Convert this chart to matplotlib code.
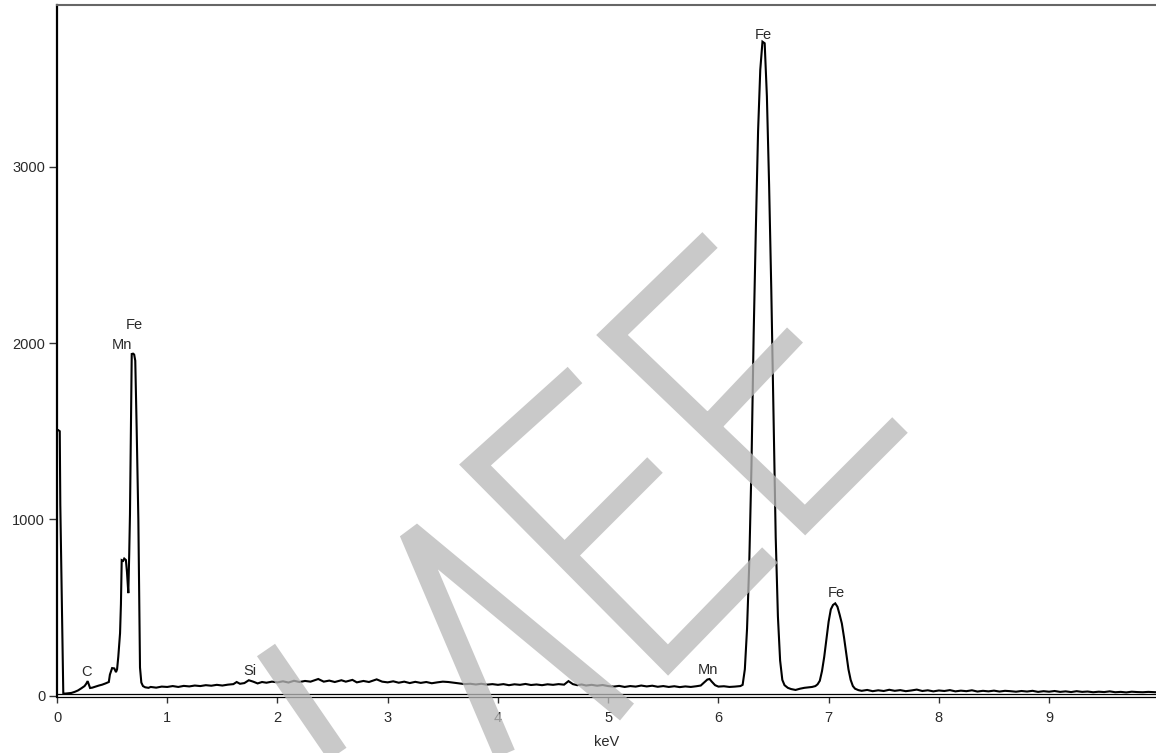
import matplotlib
matplotlib.use("Agg")
import matplotlib.pyplot as plt
from matplotlib.path import Path
from matplotlib.patches import PathPatch
from matplotlib.transforms import Affine2D

# ---------------- data ----------------
kev_low = [0.000, 0.010, 0.025, 0.030, 0.042, 0.050, 0.057, 0.07, 0.10, 0.13, 0.16, 0.19,
           0.22, 0.25, 0.265, 0.278, 0.29, 0.30, 0.32, 0.35, 0.38, 0.41, 0.44, 0.47, 0.48,
           0.50, 0.52, 0.535, 0.545, 0.556, 0.565, 0.572, 0.58, 0.587, 0.60, 0.61, 0.625,
           0.635, 0.647, 0.655, 0.662, 0.670, 0.678, 0.69, 0.70, 0.71, 0.723, 0.738, 0.745,
           0.753, 0.765, 0.78, 0.80, 0.83]
cnt_low = [1507, 1507, 1500, 1083, 591, 300, 15, 12, 14, 16, 22, 30,
           42, 55, 68, 83, 62, 44, 46, 52, 58, 63, 70, 78, 120,
           157, 155, 134, 150, 221, 300, 355, 520, 769, 765, 778, 770,
           700, 582, 800, 1028, 1500, 1938, 1940, 1935, 1900, 1506, 1000, 600,
           160, 75, 55, 48, 45]

kev_mid = [0.85, 0.90, 0.95, 1.00, 1.05, 1.10, 1.15, 1.20, 1.25, 1.30, 1.35, 1.40, 1.45,
           1.50, 1.55, 1.60, 1.63, 1.66, 1.70, 1.74, 1.78, 1.82, 1.86, 1.90, 1.95, 2.00,
           2.05, 2.10, 2.15, 2.20, 2.25, 2.30, 2.37, 2.42, 2.47, 2.52, 2.58, 2.62, 2.68,
           2.72, 2.78, 2.83, 2.90, 2.95, 3.00, 3.05, 3.10, 3.15, 3.20, 3.25, 3.30, 3.35,
           3.40, 3.45, 3.50, 3.55, 3.60, 3.65, 3.70, 3.75, 3.80, 3.85, 3.90, 3.95, 4.00,
           4.05, 4.10, 4.15, 4.20, 4.25, 4.30, 4.35, 4.40, 4.45, 4.50, 4.55, 4.60, 4.64,
           4.68, 4.72, 4.76, 4.80, 4.85, 4.90, 4.95, 5.00, 5.05, 5.10, 5.15, 5.20, 5.25,
           5.30, 5.35, 5.40, 5.45, 5.50, 5.55, 5.60, 5.65, 5.70, 5.75, 5.80, 5.84, 5.87,
           5.90, 5.92, 5.94, 5.97, 6.00, 6.05, 6.10, 6.15, 6.20, 6.22]
cnt_mid = [50, 46, 52, 50, 55, 50, 56, 53, 58, 55, 60, 57, 62,
           58, 63, 66, 78, 68, 72, 88, 80, 70, 78, 74, 80, 76,
           82, 75, 85, 78, 84, 80, 95, 80, 86, 78, 88, 80, 90,
           76, 84, 78, 93, 80, 76, 82, 74, 80, 72, 79, 73, 78,
           71, 76, 80, 78, 74, 70, 66, 68, 64, 68, 63, 66, 62,
           66, 60, 65, 62, 67, 61, 64, 60, 65, 62, 66, 63, 83,
           66, 60, 64, 58, 62, 57, 61, 55, 52, 56, 50, 55, 52,
           58, 53, 57, 51, 55, 50, 54, 49, 53, 50, 54, 58, 75,
           92, 95, 80, 60, 52, 54, 50, 52, 55, 62]

kev_fe = [6.24, 6.26, 6.28, 6.30, 6.32, 6.34, 6.36, 6.38, 6.40, 6.42, 6.44, 6.46, 6.48,
          6.50, 6.52, 6.54, 6.56, 6.58, 6.60, 6.63, 6.66, 6.70, 6.74, 6.78, 6.82, 6.85,
          6.88, 6.90, 6.92, 6.94, 6.96, 6.98, 7.00, 7.02, 7.04, 7.06, 7.08, 7.10, 7.12,
          7.14, 7.16, 7.18, 7.20, 7.22, 7.24, 7.27]
cnt_fe = [150, 380, 750, 1300, 2050, 2650, 3200, 3550, 3709, 3700, 3400, 2900, 2300,
          1600, 900, 450, 200, 90, 60, 45, 38, 33, 40, 45, 48, 50,
          55, 65, 85, 140, 220, 320, 420, 490, 515, 524, 505, 460, 410,
          330, 240, 150, 90, 55, 40, 32]

kev_tail = [7.30, 7.35, 7.40, 7.45, 7.50, 7.55, 7.60, 7.65, 7.70, 7.75, 7.80, 7.85, 7.90,
            7.95, 8.00, 8.05, 8.10, 8.15, 8.20, 8.25, 8.30, 8.35, 8.40, 8.45, 8.50, 8.55,
            8.60, 8.65, 8.70, 8.75, 8.80, 8.85, 8.90, 8.95, 9.00, 9.05, 9.10, 9.15, 9.20,
            9.25, 9.30, 9.35, 9.40, 9.45, 9.50, 9.55, 9.60, 9.65, 9.70, 9.75, 9.80, 9.85,
            9.90, 9.97]
cnt_tail = [28, 33, 26, 31, 27, 34, 28, 32, 26, 30, 35, 27, 31,
            25, 30, 27, 32, 25, 29, 26, 31, 24, 28, 25, 29, 24,
            28, 26, 23, 27, 24, 28, 22, 26, 23, 27, 22, 25, 21,
            26, 22, 24, 20, 23, 21, 25, 20, 22, 19, 23, 21, 20,
            22, 20]

peak_labels = ["Fe", "Mn", "C", "Si", "Mn", "Fe", "Fe"]
peak_kev = [0.705, 0.585, 0.27, 1.75, 5.905, 6.41, 7.07]
peak_cnt = [2100, 1990, 134, 140, 148, 3745, 582]

x_ticks = [0, 1, 2, 3, 4, 5, 6, 7, 8, 9]
y_ticks = [0, 1000, 2000, 3000]
x_label = "keV"

# ---------------- figure ----------------
W, H = 1156, 753
plt.rcParams['font.family'] = ['Liberation Sans', 'DejaVu Sans']
fig = plt.figure(figsize=(W / 100, H / 100), dpi=100)
ax = fig.add_axes([57 / W, (H - 697) / H, 1 - 57 / W, (697 - 5) / H])

kev = kev_low + kev_mid + kev_fe + kev_tail
cnt = cnt_low + cnt_mid + cnt_fe + cnt_tail
ax.plot(kev, cnt, color='black', lw=1.5, solid_joinstyle='miter', zorder=3)

ax.set_xlim(0, 9.97)
ax.set_ylim(-7, 3917)
ax.axhline(10, color='black', lw=0.9, zorder=2)

ax.set_xticks(x_ticks)
ax.set_yticks(y_ticks)
ax.tick_params(axis='x', direction='out', length=4.5, width=1, pad=5.5,
               labelsize=10.5, labelcolor='#2a2a2a', color='#333333')
ax.tick_params(axis='y', direction='out', length=5.5, width=1, pad=3,
               labelsize=10.5, labelcolor='#2a2a2a', color='#333333')
ax.set_xlabel(x_label, fontsize=10.5, color='#2a2a2a', labelpad=7)

ax.spines['right'].set_visible(False)
ax.spines['left'].set_linewidth(1.6)
ax.spines['left'].set_color('black')
ax.spines['top'].set_linewidth(1.5)
ax.spines['top'].set_color('#666666')
ax.spines['bottom'].set_linewidth(0.9)
ax.spines['bottom'].set_color('black')

for lab, px, py in zip(peak_labels, peak_kev, peak_cnt):
    ax.text(px, py, lab, ha='center', va='center', fontsize=10.5, color='#2a2a2a', zorder=4)

# ---------------- watermark (decoration, in figure pixels) ----------------
tr = Affine2D().scale(1 / W, -1 / H).translate(0, 1) + fig.transFigure


def stroke_path(strokes):
    verts, codes = [], []
    for s in strokes:
        for i, p in enumerate(s):
            verts.append(p)
            codes.append(Path.MOVETO if i == 0 else Path.LINETO)
    return Path(verts, codes)


m_strokes = [
    [(266, 650), (345, 765)],                 # M left
    [(520, 790), (410, 532), (627, 712)],     # M right
]
e_strokes = [
    [(575, 375), (475, 465), (668, 660), (770, 555)],     # E1
    [(565, 555), (655, 465)],
    [(710, 240), (612, 335), (805, 520), (900, 425)],     # E2
    [(705, 430), (795, 335)],
]
for strokes, join in ((m_strokes, 'bevel'), (e_strokes, 'miter')):
    wm = PathPatch(stroke_path(strokes), fill=False, edgecolor='#b9b9b9', lw=15.8,
                   alpha=0.77, capstyle='butt', joinstyle=join, transform=tr, zorder=10)
    fig.add_artist(wm)

fig.savefig("out.png", dpi=100)
